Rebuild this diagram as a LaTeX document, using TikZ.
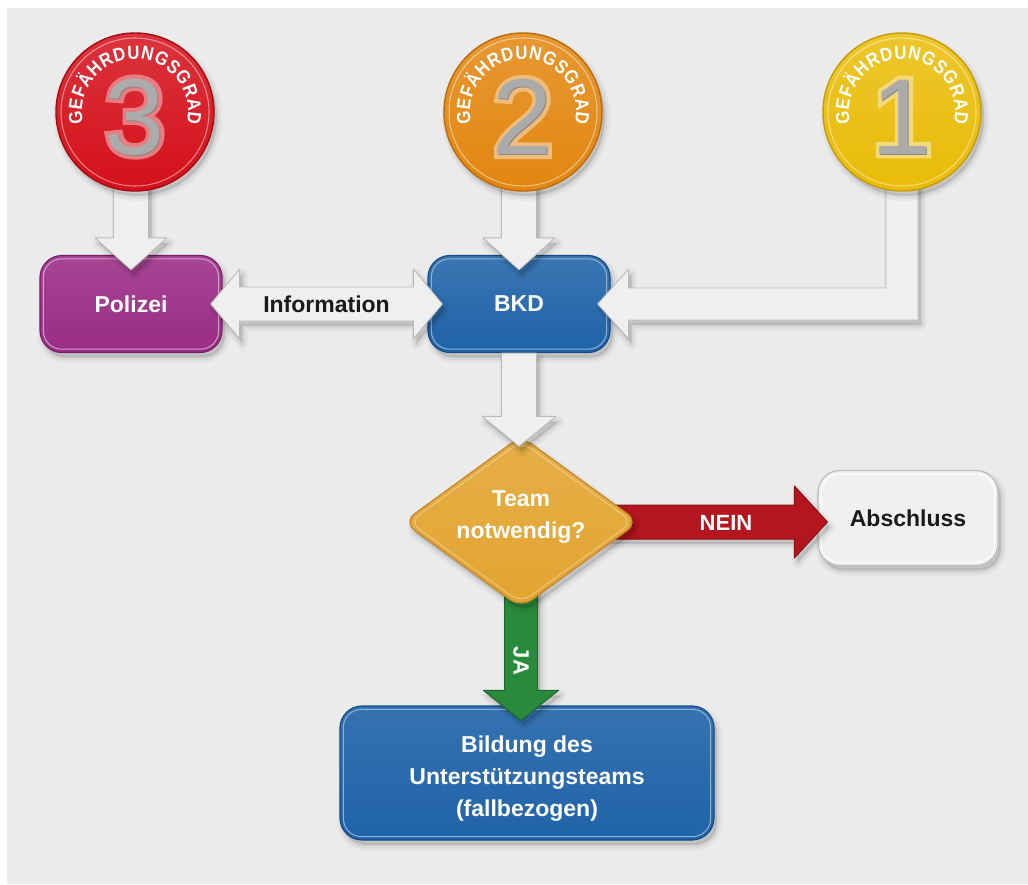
\documentclass[tikz,border=0pt]{standalone}
\usepackage{fontspec}
\setmainfont{Liberation Sans}
\newfontfamily\digitfont{Liberation Sans}
\newfontfamily\digitrim{Liberation Sans}[FakeBold=8]
\newfontfamily\arcfamily{Liberation Sans}[FakeStretch=0.88]
\usetikzlibrary{calc,shapes.geometric,decorations.text}

\definecolor{bg}{HTML}{EBEBEB}
\definecolor{arrowfill}{HTML}{EFEFEF}
\definecolor{arrowedge}{HTML}{BABABA}
\definecolor{polizeiC}{HTML}{9A2C85}
\definecolor{polizeiD}{HTML}{7A1C69}
\definecolor{bkdC}{HTML}{1F63A8}
\definecolor{bkdD}{HTML}{164C86}
\definecolor{teamC}{HTML}{E2A42F}
\definecolor{teamD}{HTML}{C3862A}
\definecolor{neinC}{HTML}{B3161E}
\definecolor{neinD}{HTML}{8C0F15}
\definecolor{jaC}{HTML}{2A8A3B}
\definecolor{jaD}{HTML}{1B6A2B}
\definecolor{absC}{HTML}{F0F0F0}
\definecolor{absD}{HTML}{BDBDBD}
\definecolor{redC}{HTML}{D4101A}
\definecolor{redD}{HTML}{A50B12}
\definecolor{orangeC}{HTML}{E2860F}
\definecolor{orangeD}{HTML}{BB6A08}
\definecolor{yellowC}{HTML}{E9BC07}
\definecolor{yellowD}{HTML}{C49C05}
\definecolor{digitgray}{HTML}{ABABAB}
\definecolor{textdark}{HTML}{1A1A1A}

\newcommand\lblfont{\bfseries\fontsize{23}{32}\selectfont}
\newcommand\arcfont{\color{white}\arcfamily\bfseries\fontsize{19}{19}\selectfont}

% straight fat arrow: [style]{start}{tip}{shaft half width}{head half width}{head length}
\newcommand\fatarrow[6][]{%
  \coordinate (fa-h) at ($(#3)!#6!(#2)$);
  \path[#1] ($(#2)!#4!90:(#3)$) -- ($(fa-h)!#4!90:(#3)$) -- ($(fa-h)!#5!90:(#3)$) -- (#3)
    -- ($(fa-h)!#5!-90:(#3)$) -- ($(fa-h)!#4!-90:(#3)$) -- ($(#2)!#4!-90:(#3)$) -- cycle;}

% fat arrow with a head at both ends
\newcommand\fatdouble[6][]{%
  \coordinate (fd-a) at ($(#2)!#6!(#3)$);
  \coordinate (fd-b) at ($(#3)!#6!(#2)$);
  \path[#1] (#2) -- ($(fd-a)!#5!90:(#3)$) -- ($(fd-a)!#4!90:(#3)$) -- ($(fd-b)!#4!-90:(#2)$)
    -- ($(fd-b)!#5!-90:(#2)$) -- (#3) -- ($(fd-b)!#5!90:(#2)$) -- ($(fd-b)!#4!90:(#2)$)
    -- ($(fd-a)!#4!-90:(#3)$) -- ($(fd-a)!#5!-90:(#3)$) -- cycle;}

% inner highlight line of a rounded box
\newcommand\bevel[3]{%
  \draw[#3, line width=1pt, rounded corners=#2] ([shift={(4,4)}]#1.north west) rectangle ([shift={(-4,-4)}]#1.south east);}

% hazard-level disc with number and curved caption
\newcommand\gradedisc[5]{% name, position, base colour, dark colour, number
  \node[disc, top color=#3!85!white, bottom color=#3, draw=#4] (#1) at #2 {};
  \draw[white, opacity=.45, line width=1.1pt] (#1.center) circle[radius=74];
  \node[inner sep=0pt, text=#3!55!white] (#1-rim) at ([yshift=-5pt]#1.center) {\digitrim\fontsize{108}{108}\selectfont #5};
  \node[inner sep=0pt, text=digitgray!80!black] (#1-shade) at ([shift={(1,1)}]#1-rim.center) {\digitfont\fontsize{108}{108}\selectfont #5};
  \node[inner sep=0pt, text=digitgray] (#1-num) at (#1-rim.center) {\digitfont\fontsize{108}{108}\selectfont #5};
  \path[decorate, decoration={text along path, text align=fit to path, text={|\arcfont|GEFÄHRDUNGSGRAD}}]
    ($(#1.center)+(-193:53)$) arc[start angle=-193, end angle=13, radius=53];}

\begin{document}
\begin{tikzpicture}[x=1pt, y=-1pt,
  softshadow/.style={
    preaction={draw=black, line width=10pt, line join=round, opacity=0.035, transform canvas={xshift=3pt, yshift=-5pt}},
    preaction={draw=black, line width=5pt, line join=round, opacity=0.05, transform canvas={xshift=3pt, yshift=-5pt}},
    preaction={fill=black, opacity=0.13, transform canvas={xshift=3pt, yshift=-5pt}}},
  box/.style={rectangle, rounded corners=22pt, inner sep=0pt, line width=1.2pt, align=center,
    font=\lblfont, text=white, softshadow},
  disc/.style={circle, minimum size=158pt, inner sep=0pt, line width=1.4pt, softshadow},
  garrow/.style={fill=arrowfill, draw=arrowedge, line width=0.9pt, line join=round, softshadow},
  lbl/.style={inner sep=0pt, font=\lblfont, align=center}]

\useasboundingbox (0,0) rectangle (1028,884);
\fill[white] (0,0) rectangle (1028,884);
\fill[bg] (7,8) rectangle (1028,884);

% boxes
\node[box, top color=polizeiC!88!white, bottom color=polizeiC, draw=polizeiD,
  minimum width=182pt, minimum height=97pt] (polizei) at (131,304) {Polizei};
\bevel{polizei}{18pt}{white!55!polizeiC}
\node[box, top color=bkdC!88!white, bottom color=bkdC, draw=bkdD,
  minimum width=182pt, minimum height=97pt] (bkd) at (519,304) {BKD};
\bevel{bkd}{18pt}{white!50!bkdC}
\node[box, fill=absC, draw=absD, text=textdark,
  minimum width=180pt, minimum height=95pt] (abschluss) at (908,518) {Abschluss};
\bevel{abschluss}{18pt}{white}
\node[box, top color=bkdC!90!white, bottom color=bkdC, draw=bkdD,
  minimum width=374pt, minimum height=134pt] (bildung) at (527,773) {};
\bevel{bildung}{18pt}{white!50!bkdC}
\node[lbl, text=white] (bildungtxt) at ([yshift=-6pt]bildung.center)
  {Bildung des\\Unterstützungsteams\\(fallbezogen)};

% decision: NEIN / JA branches
\coordinate (teamc) at (521,522);
\coordinate (neinW) at (teamc -| abschluss.west);
\coordinate (neinE) at ([xshift=10pt]neinW);
\fatarrow[fill=neinC, draw=neinD, line width=1pt, line join=round, softshadow]{teamc}{neinE}{17pt}{36pt}{33pt}
\coordinate (jaN) at (teamc |- bildung.north);
\coordinate (jaE) at ([yshift=-15pt]jaN);
\fatarrow[fill=jaC, draw=jaD, line width=1pt, line join=round, softshadow]{teamc}{jaE}{16.5pt}{37.5pt}{30pt}

\node[diamond, minimum width=236pt, minimum height=172pt, inner sep=0pt, rounded corners=14pt,
  top color=teamC!88!white, bottom color=teamC, draw=teamD, line width=1.2pt, softshadow] (team) at (teamc) {};
\node[diamond, minimum width=224pt, minimum height=162pt, inner sep=0pt, rounded corners=12pt,
  draw=white, opacity=.35, line width=1pt] (teamrim) at (teamc) {};
\node[lbl, text=white] (teamtxt) at (521,517) {Team\\notwendig?};
\node[inner sep=0pt, text=white, font=\bfseries\fontsize{22}{22}\selectfont] (neintxt) at (726,523) {NEIN};
\node[inner sep=0pt, text=white, rotate=-90, font=\bfseries\fontsize{22}{22}\selectfont] (jatxt) at (521,661) {JA};

% circle positions (the discs are drawn last, over their arrows)
\coordinate (c3p) at (135,112);
\coordinate (c2p) at (523,112);
\coordinate (c1p) at (902,112);

% grey arrows
\coordinate (a3S) at (polizei.north |- c3p);
\coordinate (a3E) at ([yshift=-15pt]polizei.north);
\fatarrow[garrow]{a3S}{a3E}{17.5pt}{36pt}{32pt}
\coordinate (a2S) at (bkd.north |- c2p);
\coordinate (a2E) at ([yshift=-15pt]bkd.north);
\fatarrow[garrow]{a2S}{a2E}{17.5pt}{36pt}{32pt}

\coordinate (elb) at (c1p |- bkd.east);
\coordinate (elbtip) at ([xshift=-13pt]bkd.east);
\path[garrow] ([xshift=-16pt]c1p) -- ([shift={(-16,-16)}]elb) -- ([shift={(31,-16)}]elbtip)
  -- ([shift={(31,-35)}]elbtip) -- (elbtip) -- ([shift={(31,35)}]elbtip) -- ([shift={(31,16)}]elbtip)
  -- ([shift={(16,16)}]elb) -- ([xshift=16pt]c1p) -- cycle;

\coordinate (a4N) at (bkd.center |- team.north);
\coordinate (a4E) at ([yshift=-11pt]a4N);
\fatarrow[garrow]{bkd.south}{a4E}{17.5pt}{37pt}{30pt}

\coordinate (infoL) at ([xshift=-12pt]polizei.east);
\coordinate (infoR) at ([xshift=15pt]bkd.west);
\fatdouble[garrow]{infoL}{infoR}{17pt}{35pt}{29pt}
\node[lbl, text=textdark] (info) at ($(infoL)!0.5!(infoR)$) {Information};

% hazard levels
\gradedisc{c3}{(c3p)}{redC}{redD}{3}
\gradedisc{c2}{(c2p)}{orangeC}{orangeD}{2}
\gradedisc{c1}{(c1p)}{yellowC}{yellowD}{1}

\end{tikzpicture}
\end{document}
